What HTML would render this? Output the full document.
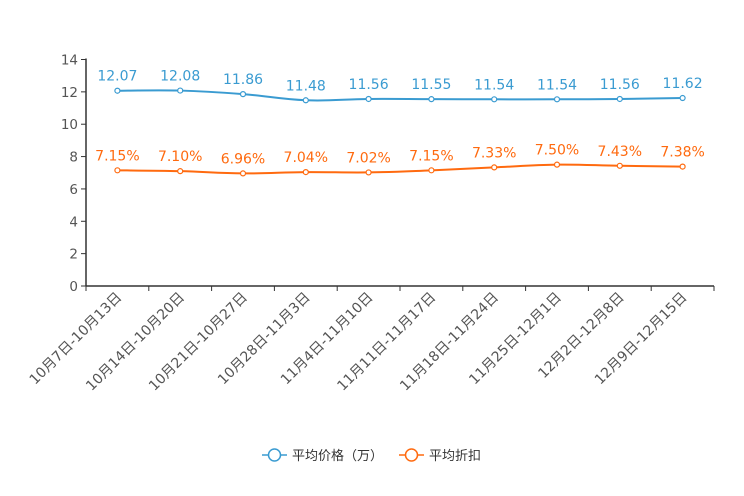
<!DOCTYPE html>
<html><head><meta charset="utf-8"><style>
html,body{margin:0;padding:0;background:#fff;}
svg{display:block;font-family:"DejaVu Sans","Liberation Sans","Noto Sans CJK SC",sans-serif;}
</style></head><body>
<svg id="c" width="744" height="496"></svg>
<script>
const categories=["10月7日-10月13日","10月14日-10月20日","10月21日-10月27日","10月28日-11月3日","11月4日-11月10日","11月11日-11月17日","11月18日-11月24日","11月25日-12月1日","12月2日-12月8日","12月9日-12月15日"];
const priceValues=[12.07,12.08,11.86,11.48,11.56,11.55,11.54,11.54,11.56,11.62];
const discountValues=[7.15,7.10,6.96,7.04,7.02,7.15,7.33,7.50,7.43,7.38];
const yTicks=[0,2,4,6,8,10,12,14];
const NS="http://www.w3.org/2000/svg";
const svg=document.getElementById('c');
const L=86,R=714,T=59.5,B=286,YMAX=14;
const bw=(R-L)/categories.length;
const x=i=>L+bw*(i+0.5);
const y=v=>B-(v/YMAX)*(B-T);
function el(t,a,p){const e=document.createElementNS(NS,t);for(const k in a)e.setAttribute(k,a[k]);(p||svg).appendChild(e);return e;}
const ya=el('line',{x1:L,y1:T-1,x2:L,y2:B,stroke:'#333','stroke-width':1.5});


yTicks.forEach(v=>{
  const tk=el('line',{x1:L-5,y1:y(v),x2:L,y2:y(v),stroke:'#333'});
  
  
  const t=el('text',{x:L-8,y:y(v)+5,'text-anchor':'end','font-size':13.5,fill:'#555'});
  t.textContent=v;
  
  
});
const xa=el('line',{x1:L,y1:B,x2:R,y2:B,stroke:'#333','stroke-width':1.5});


for(let i=0;i<=categories.length;i++){
  const tk=el('line',{x1:L+bw*i,y1:B,x2:L+bw*i,y2:B+5,stroke:'#333'});
  
  
}
categories.forEach((c,i)=>{
  const t=el('text',{x:0,y:0,'text-anchor':'end','font-size':14,fill:'#555',transform:`translate(${x(i)+5},${B+12}) rotate(-45)`});
  t.textContent=c;
  
  
});
function smooth(pts){
  let d=`M${pts[0][0]},${pts[0][1]}`;const s=0.2;
  for(let i=0;i<pts.length-1;i++){
    const p0=pts[Math.max(i-1,0)],p1=pts[i],p2=pts[i+1],p3=pts[Math.min(i+2,pts.length-1)];
    const c1=[p1[0]+(p2[0]-p0[0])*s,p1[1]+(p2[1]-p0[1])*s];
    const c2=[p2[0]-(p3[0]-p1[0])*s,p2[1]-(p3[1]-p1[1])*s];
    d+=` C${c1[0]},${c1[1]} ${c2[0]},${c2[1]} ${p2[0]},${p2[1]}`;
  }
  return d;
}
function series(vals,color,name,fmt){
  const pts=vals.map((v,i)=>[x(i),y(v)]);
  const p=el('path',{d:smooth(pts),fill:'none',stroke:color,'stroke-width':2});
  
  
  vals.forEach((v,i)=>{
    const c=el('circle',{cx:x(i),cy:y(v),r:2.5,fill:'#fff',stroke:color,'stroke-width':1.2});
    
    
    const t=el('text',{x:x(i),y:y(v)-10,'text-anchor':'middle','font-size':14,fill:color});
    t.textContent=fmt(v);
    
    
  });
}
series(priceValues,'#3a9bd1','price',v=>v.toFixed(2));
series(discountValues,'#ff6a0f','discount',v=>v.toFixed(2)+'%');
function legend(lx,color,label,name){
  const g=el('g',{});
  
  
  el('line',{x1:lx,y1:455,x2:lx+25,y2:455,stroke:color,'stroke-width':1.5},g);
  el('circle',{cx:lx+12.5,cy:455,r:6,fill:'#fff',stroke:color,'stroke-width':1.5},g);
  const t=el('text',{x:lx+30,y:460,'font-size':13,fill:'#333'},g);
  t.textContent=label;
}
legend(262,'#3a9bd1','平均价格（万）','legend-price');
legend(399,'#ff6a0f','平均折扣','legend-discount');
</script>
</body></html>
